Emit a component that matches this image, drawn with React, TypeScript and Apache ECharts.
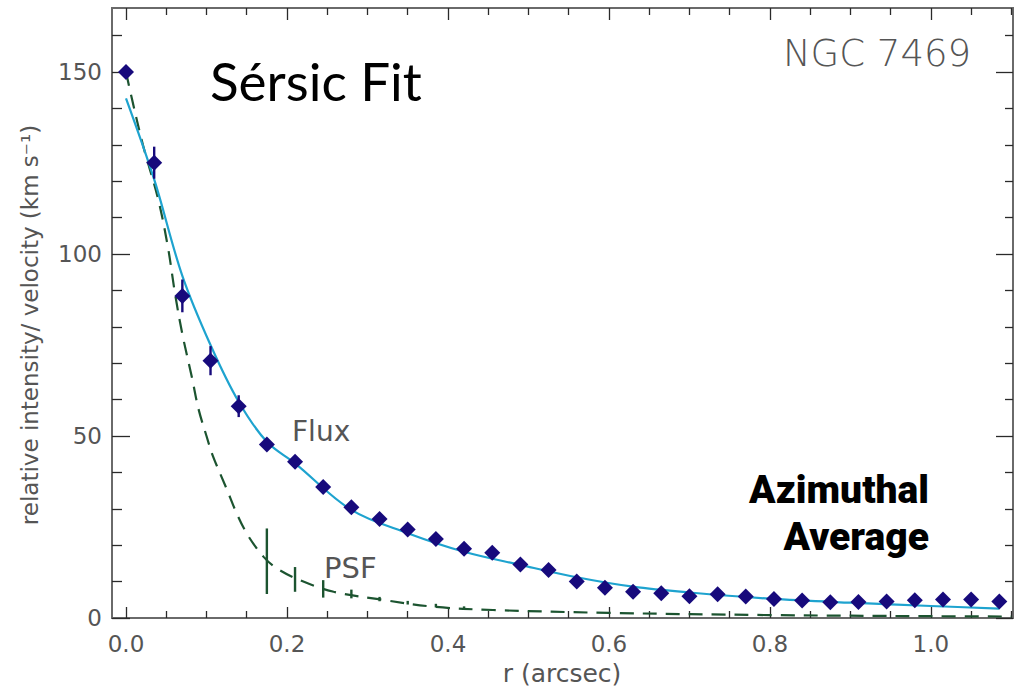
import { useEffect, useRef } from "react";
import * as echarts from "echarts";

// ---- data ----
const radii = [
  0, 0.035, 0.07, 0.105, 0.14, 0.175, 0.21, 0.245, 0.28, 0.315, 0.35, 0.385,
  0.42, 0.455, 0.49, 0.525, 0.56, 0.595, 0.63, 0.665, 0.7, 0.735, 0.77, 0.805,
  0.84, 0.875, 0.91, 0.945, 0.98, 1.015, 1.05, 1.085,
];
const fluxValues = [
  150, 125.1, 88.5, 70.7, 58.2, 47.7, 42.9, 36.0, 30.4, 27.2, 24.3, 21.7,
  19.0, 17.9, 14.7, 13.2, 10.0, 8.3, 7.2, 6.8, 6.0, 6.5, 5.9, 5.2,
  4.8, 4.3, 4.4, 4.5, 4.9, 5.1, 5.1, 4.5,
];
const fluxErrors = [
  0, 4.4, 4.5, 4.0, 3.0, 1.2, 1.0, 1.0, 0.8, 0.8, 0.8, 0.8,
  0.6, 0.6, 0.6, 0.6, 0.5, 0.5, 0.5, 0.5, 0.5, 0.5, 0.5, 0.5,
  0.5, 0.5, 0.5, 0.5, 0.5, 0.5, 0.5, 0.5,
];

const fitRadii = [0, 0.035, 0.07, 0.105, 0.14, 0.175, 0.21, 0.28, 0.35, 0.42, 0.49, 0.56, 0.63, 0.7, 0.8, 0.9, 1.0, 1.085];
const fitValues = [142.8, 120.5, 94, 75, 59.4, 48.4, 42.5, 29.7, 23.3, 18.2, 14.6, 11.2, 8.6, 7.0, 5.3, 4.2, 3.3, 2.6];

const psfRadii = [0, 0.007, 0.021, 0.04, 0.052, 0.061, 0.07, 0.082, 0.09, 0.1, 0.108, 0.125, 0.138, 0.152, 0.171, 0.187, 0.216, 0.258, 0.316, 0.382, 0.456, 0.6, 0.8, 1.0, 1.1];
const psfValues = [150, 143, 130, 115, 102, 89, 78, 66, 57.5, 50, 44.5, 35.5, 28.5, 22.5, 16.8, 13.7, 10.4, 7.2, 5.1, 3.1, 2.2, 1.4, 0.8, 0.5, 0.4];

const psfErrRadii = [0.175, 0.21, 0.245, 0.28, 0.315, 0.35, 0.385, 0.42];
const psfErrCenters = [15.6, 10.6, 8.0, 6.6, 5.2, 4.2, 3.4, 2.8];
const psfErrSizes = [9, 3.4, 2.4, 1.2, 0.6, 0.5, 0.5, 0.4];

const xMajorTicks = [0, 0.2, 0.4, 0.6, 0.8, 1.0];
const xMinorTicks = [0.05, 0.1, 0.15, 0.25, 0.3, 0.35, 0.45, 0.5, 0.55, 0.65, 0.7, 0.75, 0.85, 0.9, 0.95, 1.05, 1.1];
const yMajorTicks = [0, 50, 100, 150];
const yMinorTicks = [10, 20, 30, 40, 60, 70, 80, 90, 110, 120, 130, 140, 160];

const X_MIN = -0.0174;
const X_MAX = 1.102;
const Y_MIN = 0;
const Y_MAX = 167.6;

const AXIS_COLOR = "#6a6a6a";
const TICK_COLOR = "#2a2a2a";
const LABEL_COLOR = "#555";
const NAVY = "#170a7c";
const CYAN = "#1ea3cf";
const GREEN = "#1c5430";

function xAxisDef(position: string, ticks: number[], len: number, withLabels: boolean) {
  return {
    type: "value",
    min: X_MIN,
    max: X_MAX,
    position,
    axisLine: { show: true, onZero: false, lineStyle: { color: AXIS_COLOR, width: 2 } },
    axisTick: { show: true, inside: true, length: len, customValues: ticks, lineStyle: { color: TICK_COLOR, width: 1.3 } },
    axisLabel: withLabels
      ? {
          show: true,
          customValues: ticks,
          formatter: (v: number) => v.toFixed(1),
          color: LABEL_COLOR,
          fontFamily: "DejaVu Sans",
          fontSize: 23,
          margin: 14,
        }
      : { show: false },
    splitLine: { show: false },
  };
}

function yAxisDef(position: string, ticks: number[], len: number, withLabels: boolean) {
  return {
    type: "value",
    min: Y_MIN,
    max: Y_MAX,
    position,
    axisLine: { show: true, onZero: false, lineStyle: { color: AXIS_COLOR, width: 2 } },
    axisTick: { show: true, inside: true, length: len, customValues: ticks, lineStyle: { color: TICK_COLOR, width: 1.3 } },
    axisLabel: withLabels
      ? {
          show: true,
          customValues: ticks,
          formatter: (v: number) => String(v),
          color: LABEL_COLOR,
          fontFamily: "DejaVu Sans",
          fontSize: 23,
          margin: 10,
        }
      : { show: false },
    splitLine: { show: false },
  };
}

function errorBarRender(color: string, width: number) {
  return (params: any, api: any) => {
    const x = api.value(0);
    const lo = api.value(1);
    const hi = api.value(2);
    const p1 = api.coord([x, lo]);
    const p2 = api.coord([x, hi]);
    return {
      type: "line",
      shape: { x1: p1[0], y1: p1[1], x2: p2[0], y2: p2[1] },
      style: { stroke: color, lineWidth: width },
    };
  };
}

function txt(text: string, x: number, y: number, font: string, fill: string, align: string, vAlign: string, extra: any = {}) {
  return {
    type: "text",
    x,
    y,
    silent: true,
    z: 100,
    ...extra,
    style: {
      text,
      font,
      fill,
      align,
      verticalAlign: vAlign,
      textAlign: align,
      textVerticalAlign: vAlign,
    },
  };
}

export default function App() {
  const ref = useRef<HTMLDivElement>(null);

  useEffect(() => {
    document.body.style.margin = "0";
    if (!ref.current) return;
    const chart = echarts.init(ref.current, undefined, { renderer: "svg" });

    const fluxData = radii.map((r, i) => [r, fluxValues[i]]);
    const fluxErrData = radii.map((r, i) => [r, fluxValues[i] - fluxErrors[i], fluxValues[i] + fluxErrors[i]]);
    const fitData = fitRadii.map((r, i) => [r, fitValues[i]]);
    const psfData = psfRadii.map((r, i) => [r, psfValues[i]]);
    const psfErrData = psfErrRadii.map((r, i) => [r, psfErrCenters[i] - psfErrSizes[i], psfErrCenters[i] + psfErrSizes[i]]);

    chart.setOption({
      animation: false,
      backgroundColor: "#ffffff",
      grid: { left: 112, right: 1, top: 8, bottom: 70, containLabel: false },
      xAxis: [
        xAxisDef("bottom", xMajorTicks, 11, true),
        xAxisDef("bottom", xMinorTicks, 7, false),
        xAxisDef("top", xMajorTicks, 12, false),
        xAxisDef("top", xMinorTicks, 7, false),
      ],
      yAxis: [
        yAxisDef("left", yMajorTicks, 18, true),
        yAxisDef("left", yMinorTicks, 10, false),
        yAxisDef("right", yMajorTicks, 17, false),
        yAxisDef("right", yMinorTicks, 8, false),
      ],
      series: [
        {
          name: "PSF",
          type: "line",
          data: psfData,
          smooth: 0.35,
          showSymbol: false,
          symbol: "none",
          lineStyle: { color: GREEN, width: 2.2, type: [14, 9] },
          z: 2,
        },
        {
          name: "PSF error",
          type: "custom",
          data: psfErrData,
          encode: { x: 0, y: [1, 2] },
          renderItem: errorBarRender(GREEN, 2.4),
          z: 3,
        },
        {
          name: "Sérsic fit",
          type: "line",
          data: fitData,
          smooth: 0.35,
          showSymbol: false,
          symbol: "none",
          lineStyle: { color: CYAN, width: 2.2 },
          z: 4,
        },
        {
          name: "Flux error",
          type: "custom",
          data: fluxErrData,
          encode: { x: 0, y: [1, 2] },
          renderItem: errorBarRender(NAVY, 2.4),
          z: 5,
        },
        {
          name: "Flux",
          type: "scatter",
          data: fluxData,
          symbol: "diamond",
          symbolSize: [16, 16],
          itemStyle: { color: NAVY, opacity: 1 },
          z: 6,
        },
      ],
      graphic: [
        txt("Sérsic Fit", 210, 80, "normal 53px Lato", "#000", "left", "middle"),
        txt("NGC 7469", 971, 53, "200 37px 'DejaVu Sans'", "#555", "right", "middle"),
        txt("Flux", 292, 431, "normal 28px 'DejaVu Sans'", "#555", "left", "middle"),
        txt("PSF", 324, 568, "normal 29px 'DejaVu Sans'", "#555", "left", "middle"),
        txt("Azimuthal", 929, 490, "900 39px Roboto", "#000", "right", "middle"),
        txt("Average", 929, 537, "900 39px Roboto", "#000", "right", "middle"),
        txt("r (arcsec)", 562, 673, "normal 25px 'DejaVu Sans'", "#555", "center", "middle"),
        txt("relative intensity/ velocity (km s⁻¹)", 30, 325, "normal 23px 'DejaVu Sans'", "#555", "center", "middle", { rotation: Math.PI / 2 }),
      ],
    });

    return () => chart.dispose();
  }, []);

  return <div ref={ref} style={{ width: 1014, height: 688 }} />;
}
